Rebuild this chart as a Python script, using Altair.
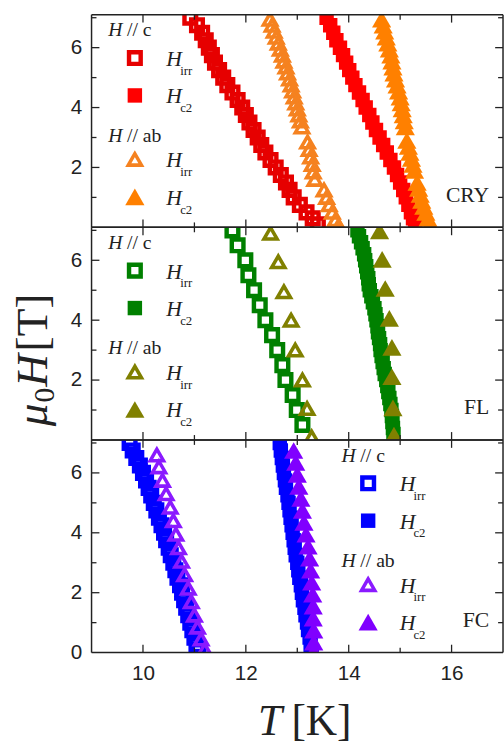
import altair as alt
import pandas as pd

# ---------------- data: T [K] vs mu0H [T] ----------------
# CRY
cry_c_irr_H = [7.0, 6.75, 6.5, 6.25, 6.0, 5.75, 5.5, 5.25, 5.0, 4.75, 4.5, 4.25, 4.0, 3.75, 3.5,
               3.25, 3.0, 2.75, 2.5, 2.25, 2.0, 1.75, 1.5, 1.25, 1.0, 0.75, 0.5, 0.3, 0.1]
cry_c_irr_T = [10.92, 11.05, 11.15, 11.22, 11.28, 11.34, 11.40, 11.48, 11.56, 11.64, 11.74, 11.84,
               11.93, 12.00, 12.07, 12.15, 12.23, 12.30, 12.38, 12.48, 12.58, 12.68, 12.78, 12.85,
               12.93, 13.05, 13.18, 13.30, 13.40]
cry_c_c2_H = cry_c_irr_H
cry_c_c2_T = [13.57, 13.64, 13.70, 13.76, 13.83, 13.89, 13.95, 14.01, 14.07, 14.13, 14.20, 14.27,
              14.33, 14.40, 14.46, 14.53, 14.60, 14.67, 14.74, 14.81, 14.88, 14.94, 15.00, 15.06,
              15.11, 15.16, 15.21, 15.25, 15.29]
cry_ab_irr_H = [6.95, 6.75, 6.55, 6.35, 6.15, 5.95, 5.75, 5.55, 5.35, 5.15, 4.95, 4.75, 4.55, 4.35,
                4.15, 3.95, 3.75, 3.55, 3.35, 2.85, 2.6, 2.35, 2.1, 1.85, 1.6, 1.25, 1.0, 0.75,
                0.5, 0.25, 0.05]
cry_ab_irr_T = [12.47, 12.51, 12.55, 12.59, 12.63, 12.67, 12.71, 12.74, 12.78, 12.81, 12.85, 12.88,
                12.91, 12.94, 12.97, 13.00, 13.03, 13.06, 13.09, 13.20, 13.23, 13.26, 13.29, 13.31,
                13.34, 13.52, 13.57, 13.62, 13.68, 13.74, 13.80]
cry_ab_c2_H = [6.95, 6.75, 6.55, 6.35, 6.15, 5.95, 5.75, 5.55, 5.35, 5.15, 4.95, 4.75, 4.55, 4.35,
               4.15, 3.95, 3.75, 3.55, 3.35, 2.9, 2.7, 2.5, 2.3, 2.1, 1.9, 1.5, 1.3, 1.1, 0.9,
               0.7, 0.5, 0.3, 0.1]
cry_ab_c2_T = [14.64, 14.67, 14.70, 14.73, 14.76, 14.79, 14.82, 14.84, 14.86, 14.88, 14.91, 14.94,
               14.97, 15.00, 15.02, 15.04, 15.06, 15.08, 15.10, 15.13, 15.16, 15.19, 15.22, 15.25,
               15.28, 15.33, 15.36, 15.39, 15.42, 15.46, 15.50, 15.54, 15.58]

# FL
fl_c_irr_H = [7.0, 6.5, 6.0, 5.5, 5.0, 4.5, 4.0, 3.5, 3.0, 2.5, 2.0, 1.5, 1.0, 0.5]
fl_c_irr_T = [11.74, 11.84, 11.99, 12.05, 12.16, 12.27, 12.38, 12.51, 12.61, 12.71, 12.77, 12.91,
              12.99, 13.10]
fl_ab_irr_H = [6.9, 5.95, 4.95, 4.0, 3.0, 2.0, 1.05, 0.1]
fl_ab_irr_T = [12.48, 12.63, 12.74, 12.88, 12.96, 13.10, 13.19, 13.28]
fl_c_c2_H = [7.0, 6.8, 6.6, 6.4, 6.2, 6.0, 5.8, 5.6, 5.4, 5.2, 5.0, 4.8, 4.6, 4.4, 4.2, 4.0, 3.8,
             3.6, 3.4, 3.2, 3.0, 2.8, 2.6, 2.4, 2.2, 2.0, 1.8, 1.6, 1.4, 1.2, 1.0, 0.8, 0.6, 0.4, 0.2]
fl_c_c2_T = [14.17, 14.20, 14.24, 14.27, 14.30, 14.32, 14.34, 14.36, 14.38, 14.39, 14.41, 14.44,
             14.47, 14.50, 14.52, 14.54, 14.56, 14.57, 14.59, 14.61, 14.62, 14.64, 14.66, 14.68,
             14.70, 14.73, 14.75, 14.77, 14.79, 14.81, 14.83, 14.84, 14.85, 14.86, 14.87]
fl_ab_c2_H = [6.98, 6.03, 5.06, 4.06, 3.09, 2.11, 1.07, 0.16]
fl_ab_c2_T = [14.60, 14.65, 14.71, 14.79, 14.84, 14.84, 14.86, 14.88]

# FC
fc_c_irr_H = [7.0, 6.75, 6.5, 6.25, 6.0, 5.75, 5.5, 5.25, 5.0, 4.75, 4.5, 4.25, 4.0, 3.75, 3.5,
              3.25, 3.0, 2.75, 2.5, 2.25, 2.0, 1.75, 1.5, 1.25, 1.0, 0.75, 0.5, 0.25, 0.05]
fc_c_irr_T = [9.74, 9.80, 9.87, 9.94, 10.00, 10.06, 10.11, 10.16, 10.21, 10.26, 10.31, 10.36,
              10.41, 10.45, 10.50, 10.54, 10.59, 10.63, 10.67, 10.72, 10.76, 10.80, 10.84, 10.88,
              10.92, 10.96, 11.00, 11.04, 11.08]
fc_ab_irr_H = [6.6, 6.2, 5.75, 5.3, 4.85, 4.4, 3.95, 3.5, 3.05, 2.6, 2.15, 1.7, 1.25, 0.85, 0.45, 0.1]
fc_ab_irr_T = [10.27, 10.31, 10.38, 10.45, 10.53, 10.59, 10.64, 10.69, 10.75, 10.81, 10.88, 10.94,
               11.00, 11.06, 11.13, 11.20]
fc_c_c2_H = fc_c_irr_H
fc_c_c2_T = [12.66, 12.68, 12.70, 12.72, 12.74, 12.76, 12.78, 12.81, 12.83, 12.85, 12.87, 12.89,
             12.91, 12.93, 12.95, 12.97, 13.00, 13.02, 13.04, 13.07, 13.09, 13.11, 13.14, 13.16,
             13.19, 13.21, 13.24, 13.26, 13.28]
fc_ab_c2_H = [6.75, 6.35, 5.95, 5.55, 5.15, 4.75, 4.35, 3.95, 3.55, 3.15, 2.75, 2.35, 1.95, 1.55,
              1.15, 0.75, 0.35, 0.05]
fc_ab_c2_T = [12.93, 12.97, 13.00, 13.03, 13.07, 13.10, 13.13, 13.17, 13.21, 13.24, 13.26, 13.28,
              13.30, 13.31, 13.31, 13.32, 13.32, 13.32]

# axis ticks
x_major = [10, 12, 14, 16]
x_minor = [11, 13, 15]
y_major = [2, 4, 6]
y_minor = [1, 3, 5, 7]
x_labels = [10, 12, 14, 16]

# ---------------- layout / style ----------------
W, HGT = 418, 216
T_DOM = [9, 17]
H_DOM = [0, 7.1]
INK = "#222222"
SERIF = "Liberation Serif"
SANS = "Liberation Sans"
MAJ, MIN = 8, 5
NB = "\u00a0"

ONE = pd.DataFrame({"k": [0]})


def x_enc(field, labels):
    axis = alt.Axis(
        values=x_labels, labels=labels, ticks=False, domain=False, grid=False,
        labelFont=SANS, labelFontSize=21, labelColor=INK, labelPadding=10,
    )
    return alt.X(f"{field}:Q", scale=alt.Scale(domain=T_DOM, nice=False, zero=False),
                 axis=axis, title=None)


def y_enc(field, values):
    axis = alt.Axis(
        values=values, ticks=False, domain=False, grid=False,
        labelFont=SANS, labelFontSize=21, labelColor=INK, labelPadding=10,
    )
    return alt.Y(f"{field}:Q", scale=alt.Scale(domain=H_DOM, nice=False, zero=False),
                 axis=axis, title=None)


def series(T, Hs, shape, color, filled, size, sw, xl, yv):
    df = pd.DataFrame({"T": T, "H": Hs})
    if filled:
        m = alt.Chart(df).mark_point(shape=shape, filled=True, fill=color, strokeWidth=0,
                                     size=size, opacity=1, clip=True)
    else:
        m = alt.Chart(df).mark_point(shape=shape, filled=False, stroke=color, strokeWidth=sw,
                                     size=size, opacity=1, clip=True)
    return m.encode(x=x_enc("T", xl), y=y_enc("H", yv))


def frame(xl, yv):
    layers = []
    for vals, ln in ((x_major, MAJ), (x_minor, MIN)):
        d = pd.DataFrame({"t": vals})
        layers.append(alt.Chart(d).mark_rule(color=INK, strokeWidth=1.3).encode(
            x=x_enc("t", xl), y=alt.value(0), y2=alt.value(ln)))
        layers.append(alt.Chart(d).mark_rule(color=INK, strokeWidth=1.3).encode(
            x=x_enc("t", xl), y=alt.value(HGT - ln), y2=alt.value(HGT)))
    for vals, ln in ((y_major, MAJ), (y_minor, MIN)):
        d = pd.DataFrame({"h": vals})
        layers.append(alt.Chart(d).mark_rule(color=INK, strokeWidth=1.3).encode(
            y=y_enc("h", yv), x=alt.value(0), x2=alt.value(ln)))
        layers.append(alt.Chart(d).mark_rule(color=INK, strokeWidth=1.3).encode(
            y=y_enc("h", yv), x=alt.value(W - ln), x2=alt.value(W)))
    border = alt.Chart(ONE).mark_rule(color=INK, strokeWidth=1.5)
    layers += [
        border.encode(x=alt.value(0), x2=alt.value(W), y=alt.value(0)),
        border.encode(x=alt.value(0), x2=alt.value(W), y=alt.value(HGT)),
        border.encode(x=alt.value(0), y=alt.value(0), y2=alt.value(HGT)),
        border.encode(x=alt.value(W), y=alt.value(0), y2=alt.value(HGT)),
    ]
    return layers


def txt(s, x, y, size, italic=False, font=SERIF, angle=0, align="left"):
    kw = dict(text=s, font=font, fontSize=size, align=align, baseline="alphabetic", color=INK)
    if italic:
        kw["fontStyle"] = "italic"
    if angle:
        kw["angle"] = angle
    return alt.Chart(ONE).mark_text(**kw).encode(x=alt.value(x), y=alt.value(y))


def sym(shape, color, filled, size, sw, x, y):
    if filled:
        m = alt.Chart(ONE).mark_point(shape=shape, filled=True, fill=color, strokeWidth=0,
                                      size=size, opacity=1)
    else:
        m = alt.Chart(ONE).mark_point(shape=shape, filled=False, stroke=color, strokeWidth=sw,
                                      size=size, opacity=1)
    return m.encode(x=alt.value(x), y=alt.value(y))


SQ_OPEN, SQ_FILL, TR_OPEN, TR_FILL = 140, 215, 180, 380
SW_SQ, SW_TR = 4.5, 3.6


def legend(x0, c_open, c_fill, ab_open, ab_fill):
    sx, tx = x0 + 27, x0 + 59
    rows = []
    rows += [txt("H", x0, 22, 20, italic=True), txt("//" + NB + "c", x0 + 19, 22, 20)]
    rows += [sym("square", c_open, False, SQ_OPEN, SW_SQ, sx, 44),
             txt("H", tx, 52, 22, italic=True), txt("irr", tx + 14, 61, 13)]
    rows += [sym("square", c_fill, True, SQ_FILL, 0, sx, 82),
             txt("H", tx, 90, 22, italic=True), txt("c2", tx + 14, 99, 13)]
    rows += [txt("H", x0, 129, 20, italic=True), txt("//" + NB + "ab", x0 + 19, 129, 20)]
    rows += [sym("triangle-up", ab_open, False, TR_OPEN, SW_TR, sx, 147),
             txt("H", tx, 155, 22, italic=True), txt("irr", tx + 14, 164, 13)]
    rows += [sym("triangle-up", ab_fill, True, TR_FILL, 0, sx, 185),
             txt("H", tx, 193, 22, italic=True), txt("c2", tx + 14, 202, 13)]
    return rows


def panel(data, colors, name, leg_x, bottom=False, extra=()):
    xl = bottom
    yv = [0, 2, 4, 6] if bottom else [2, 4, 6]
    (ciT, ciH), (ccT, ccH), (aiT, aiH), (acT, acH) = data
    c_open, c_fill, ab_open, ab_fill = colors
    layers = [
        series(ciT, ciH, "square", c_open, False, SQ_OPEN, SW_SQ, xl, yv),
        series(ccT, ccH, "square", c_fill, True, SQ_FILL, 0, xl, yv),
        series(aiT, aiH, "triangle-up", ab_open, False, TR_OPEN, SW_TR, xl, yv),
        series(acT, acH, "triangle-up", ab_fill, True, TR_FILL, 0, xl, yv),
    ]
    layers += frame(xl, yv)
    layers += legend(leg_x, *colors)
    layers.append(txt(name, 404, 190, 22, align="right"))
    layers += list(extra)
    return alt.layer(*layers).properties(width=W, height=HGT)


# invisible anchor fixing the outer margin above / left of the top panel
anchor = alt.Chart(ONE).mark_rule(opacity=0, strokeWidth=0).encode(
    x=alt.value(-93), x2=alt.value(-93), y=alt.value(-9), y2=alt.value(-9))

# rotated y-axis title: mu_0 H [T]
ytitle = [
    txt("\u03bc", -45, 202, 46, italic=True, angle=270),
    txt("0", -38, 178, 30, angle=270),
    txt("H", -45, 162, 46, italic=True, angle=270),
    txt("[T]", -45, 126, 46, angle=270),
]
# x-axis title: T [K]
xtitle = [
    txt("T", 169, 300, 44, italic=True),
    txt("[K]", 203, 300, 44),
]

top = panel(
    [(cry_c_irr_T, cry_c_irr_H), (cry_c_c2_T, cry_c_c2_H),
     (cry_ab_irr_T, cry_ab_irr_H), (cry_ab_c2_T, cry_ab_c2_H)],
    ["#E60000", "#FF0000", "#F58220", "#FF8000"], "CRY", 17, extra=[anchor])
mid = panel(
    [(fl_c_irr_T, fl_c_irr_H), (fl_c_c2_T, fl_c_c2_H),
     (fl_ab_irr_T, fl_ab_irr_H), (fl_ab_c2_T, fl_ab_c2_H)],
    ["#008000", "#008000", "#808000", "#808000"], "FL", 17, extra=ytitle)
bot = panel(
    [(fc_c_irr_T, fc_c_irr_H), (fc_c_c2_T, fc_c_c2_H),
     (fc_ab_irr_T, fc_ab_irr_H), (fc_ab_c2_T, fc_ab_c2_H)],
    ["#0000FF", "#0000FF", "#8A1AFF", "#8000FF"], "FC", 254, bottom=True, extra=xtitle)

chart = alt.vconcat(top, mid, bot, spacing=0, bounds="flush").properties(
    padding=0, background="white"
).configure_view(stroke=None)

chart.save("out.html", embed_options={"renderer": "svg", "actions": False})
